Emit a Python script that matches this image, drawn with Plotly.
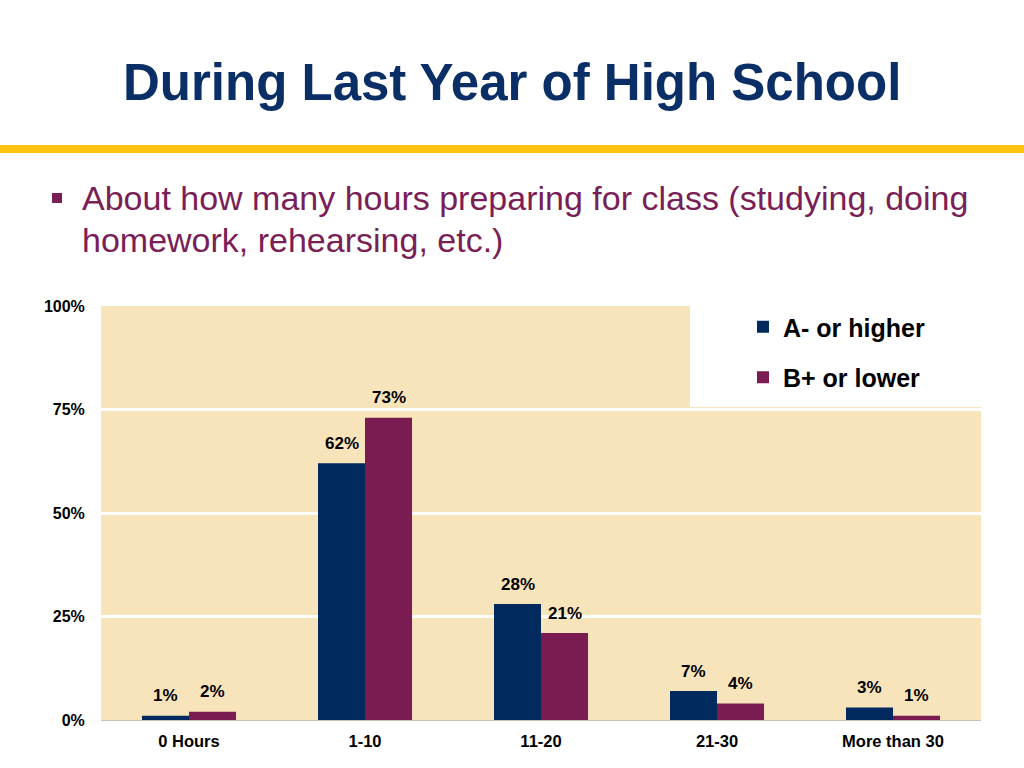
import plotly.graph_objects as go

categories = ["0 Hours", "1-10", "11-20", "21-30", "More than 30"]
series_names = ["A- or higher", "B+ or lower"]
a_values = [1, 62, 28, 7, 3]
b_values = [2, 73, 21, 4, 1]
y_ticks = [0, 25, 50, 75, 100]
y_tick_labels = ["0%", "25%", "50%", "75%", "100%"]

W, H = 1024, 768
L, R, T, B = 101, 981, 306, 720
PW, PH = R - L, B - T

def px(x):
    return (x - L) / PW

def py(y):
    return (B - y) / PH

BLUE = "#00295E"
PURPLE = "#7A1C52"
BEIGE = "#F8E4BB"
FONT = "Liberation Sans, Arial, sans-serif"

fig = go.Figure()
fig.add_trace(go.Bar(x=categories, y=a_values, name=series_names[0],
                     marker=dict(color=BLUE, line=dict(width=0)), legendgroup="a"))
fig.add_trace(go.Bar(x=categories, y=b_values, name=series_names[1],
                     marker=dict(color=PURPLE, line=dict(width=0)), legendgroup="b"))

annotations = []
for vals, shift in ((a_values, -23.5), (b_values, 23.5)):
    for c, v in zip(categories, vals):
        annotations.append(dict(x=c, y=v, xref="x", yref="y", text=f"{v}%",
                                showarrow=False, xshift=shift, yshift=20,
                                font=dict(family=FONT, size=17, color="black", weight="bold")))

annotations.append(dict(x=px(512), y=py(82), xref="paper", yref="paper",
                        text="<b>During Last Year of High School</b>", showarrow=False,
                        xanchor="center", yanchor="middle",
                        font=dict(family=FONT, size=51, color="#0A2F66")))
annotations.append(dict(x=px(80), y=py(198), xref="paper", yref="paper",
                        text="About how many hours preparing for class (studying, doing",
                        showarrow=False, xanchor="left", yanchor="middle",
                        font=dict(family=FONT, size=34, color="#7A1E57")))
annotations.append(dict(x=px(80), y=py(240), xref="paper", yref="paper",
                        text="homework, rehearsing, etc.)",
                        showarrow=False, xanchor="left", yanchor="middle",
                        font=dict(family=FONT, size=34, color="#7A1E57")))

shapes = [
    # yellow rule
    dict(type="rect", xref="paper", yref="paper", x0=px(0), x1=px(W), y0=py(153), y1=py(145),
         fillcolor="#FFC20E", line=dict(width=0), layer="above"),
    # bullet square
    dict(type="rect", xref="paper", yref="paper", x0=px(52), x1=px(62), y0=py(203), y1=py(193),
         fillcolor="#7A1E57", line=dict(width=0)),
    # white legend cut-out in the plot background
    dict(type="rect", xref="paper", yref="paper", x0=px(690), x1=1.0, y0=py(407), y1=1.0,
         fillcolor="white", line=dict(width=0), layer="below"),
]

fig.update_layout(
    width=W, height=H,
    margin=dict(l=L, r=W - R, t=T, b=H - B, pad=0),
    paper_bgcolor="white", plot_bgcolor=BEIGE,
    barmode="group", bargap=0.466, bargroupgap=0,
    font=dict(family=FONT, color="black"),
    showlegend=True,
    legend=dict(x=px(743), y=py(304), xanchor="left", yanchor="top",
                bgcolor="rgba(0,0,0,0)", traceorder="grouped", tracegroupgap=15,
                font=dict(family=FONT, size=25, color="black", weight="bold"),
                itemwidth=30),
    annotations=annotations, shapes=shapes,
    xaxis=dict(showgrid=False, showline=True, linecolor="#C9C2B4", linewidth=1,
               tickfont=dict(family=FONT, size=16.5, color="black", weight="bold"),
               ticks="outside", ticklen=6, tickcolor="rgba(0,0,0,0)", fixedrange=True),
    yaxis=dict(range=[0, 100], tickvals=y_ticks, ticktext=y_tick_labels,
               showgrid=True, gridcolor="white", gridwidth=3, zeroline=False,
               tickfont=dict(family=FONT, size=16, color="black", weight="bold"),
               ticks="outside", ticklen=12, tickcolor="rgba(0,0,0,0)", fixedrange=True),
)

fig.write_html("out.html", config={"displayModeBar": False},
               post_script="document.body.style.margin='0';")
